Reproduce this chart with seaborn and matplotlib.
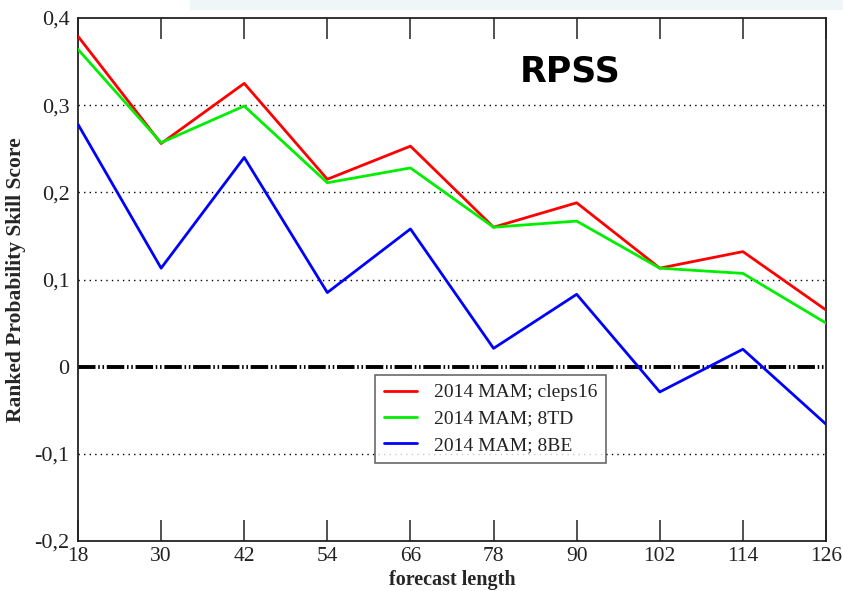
import numpy as np
import pandas as pd
import matplotlib
matplotlib.use("Agg")
import matplotlib.pyplot as plt
import seaborn as sns
from matplotlib.ticker import FuncFormatter

lead = [18, 30, 42, 54, 66, 78, 90, 102, 114, 126]
cleps16 = [0.379, 0.256, 0.325, 0.215, 0.253, 0.160, 0.188, 0.113, 0.132, 0.065]
td8 = [0.364, 0.257, 0.299, 0.211, 0.228, 0.160, 0.167, 0.113, 0.107, 0.050]
be8 = [0.278, 0.113, 0.240, 0.085, 0.158, 0.021, 0.083, -0.029, 0.020, -0.066]
labels = ["2014 MAM; cleps16", "2014 MAM; 8TD", "2014 MAM; 8BE"]
colors = ["#ff0000", "#00ee00", "#0000ff"]

df = pd.DataFrame({
    "lead": lead * 3,
    "rpss": cleps16 + td8 + be8,
    "series": [labels[0]] * 10 + [labels[1]] * 10 + [labels[2]] * 10,
})

sns.set_theme(style="white")
plt.rcParams['font.family'] = ['Liberation Serif', 'DejaVu Serif']
plt.rcParams['text.color'] = 'black'

fig = plt.figure(figsize=(8.43, 5.91), dpi=100)
ax = fig.add_axes([78 / 843, 1 - 541 / 591, (826 - 78) / 843, (541 - 18) / 591])

# slide artifacts
fig.patches.append(plt.Rectangle((190 / 843, 1 - 9 / 591), 1, 9 / 591, transform=fig.transFigure,
                                 color="#eef6f8", zorder=0))

for yv in [-0.1, 0.1, 0.2, 0.3]:
    ax.axhline(yv, color="black", lw=1.0, ls=(0, (1, 3)), zorder=1)
ax.axhline(0, color="black", lw=2.8, ls=(0, (4.5, 0.7, 0.4, 0.7, 0.4, 0.7)), zorder=1)

sns.lineplot(data=df, x="lead", y="rpss", hue="series", palette=colors, lw=2,
             ax=ax, legend=True, zorder=3)

ax.set_xlim(18, 126)
ax.set_ylim(-0.2, 0.4)
ax.set_xticks(lead)
ax.set_yticks([-0.2, -0.1, 0, 0.1, 0.2, 0.3, 0.4])

def fmt(v, pos):
    if abs(v) < 1e-9:
        return "0"
    return f"{v:.1f}".replace(".", ",")

ax.yaxis.set_major_formatter(FuncFormatter(fmt))
ax.tick_params(axis="x", direction="in", length=15, width=1.2, top=True, bottom=True,
               labelsize=15.5, pad=4, color="#333333", labelcolor="#222222")
ax.tick_params(axis="y", length=0, labelsize=16, pad=6, labelcolor="#222222")
for s in ax.spines.values():
    s.set_color("#222222")
    s.set_linewidth(1.3)

ax.set_xlabel("forecast length", fontsize=14.5, fontweight="bold", labelpad=3)
ax.set_ylabel("Ranked Probability Skill Score", fontsize=15.5, fontweight="bold", labelpad=6)

ax.text(0.658, 0.897, "RPSS", transform=ax.transAxes, fontsize=25, fontweight="bold",
        family="DejaVu Sans", ha="center", va="center", color="black")

leg = ax.legend(loc="upper left", bbox_to_anchor=((375 - 78) / 748, (541 - 375) / 523),
                borderaxespad=0, frameon=True, fancybox=False, fontsize=14,
                handlelength=1.7, borderpad=0.45, labelspacing=0.45, handletextpad=0.9)
leg.get_frame().set_edgecolor("#444444")
leg.get_frame().set_linewidth(1.2)
leg.set_title(None)
for t in leg.get_texts():
    t.set_color("#222222")

fig.savefig("out.png", dpi=100)
